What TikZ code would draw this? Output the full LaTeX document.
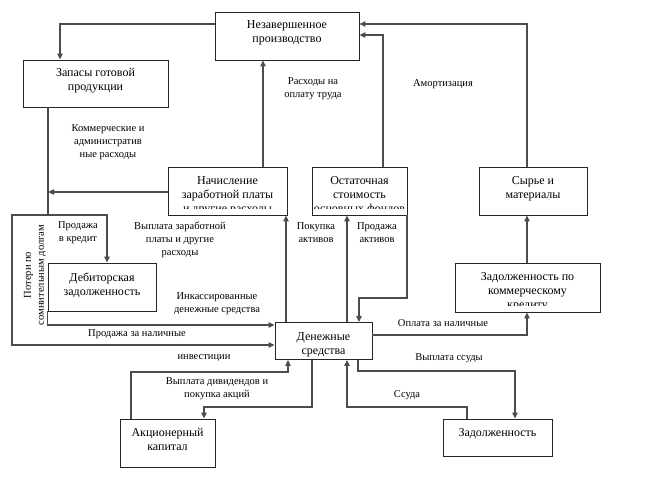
\documentclass[tikz,border=0pt]{standalone}
\usepackage{fontspec}
\setmainfont{Liberation Serif}
\usetikzlibrary{arrows.meta}
\begin{document}
\begin{tikzpicture}[x=1pt,y=-1pt,
  box/.style={draw=black!85, line width=0.9pt, inner sep=0pt},
  btext/.style={font=\fontsize{12}{14}\selectfont, align=center, inner sep=0pt, anchor=north},
  lbl/.style={font=\fontsize{10.5}{13}\selectfont, align=center, inner sep=0pt},
  conn/.style={draw=black!70, line width=1.1pt},
  arr/.style={conn, -{Triangle[length=6pt,width=5.5pt]}}
]
\useasboundingbox (0,0) rectangle (672,480);

% boxes
\node[box, minimum width=144pt, minimum height=48pt] (nez) at (287,36) {};
\node[box, minimum width=145pt, minimum height=47pt] (zap) at (95.5,83.5) {};
\node[box, minimum width=119pt, minimum height=48pt] (nach) at (227.5,191) {};
\node[box, minimum width=95pt, minimum height=48pt] (ost) at (359.5,191) {};
\node[box, minimum width=108pt, minimum height=48pt] (syr) at (533,191) {};
\node[box, minimum width=108pt, minimum height=48pt] (deb) at (102,287) {};
\node[box, minimum width=145pt, minimum height=49pt] (zkk) at (527.5,287.5) {};
\node[box, minimum width=97pt, minimum height=37pt] (den) at (323.5,341) {};
\node[box, minimum width=95pt, minimum height=48pt] (akc) at (167.5,443) {};
\node[box, minimum width=109pt, minimum height=37pt] (zad) at (497.5,437.5) {};

% box texts
\node[btext] (nez-t) at ([yshift=-9pt]nez.north) {Незавершенное\\производство};
\node[btext] (zap-t) at ([yshift=-9pt]zap.north) {Запасы готовой\\продукции};
\begin{scope}
\clip ([yshift=7pt]nach.south west) rectangle (nach.north east);
\node[btext] (nach-t) at ([yshift=-9.5pt]nach.north) {Начисление\\заработной платы\\и другие расходы};
\end{scope}
\begin{scope}
\clip ([yshift=7pt]ost.south west) rectangle (ost.north east);
\node[btext] (ost-t) at ([yshift=-9.5pt]ost.north) {Остаточная\\стоимость\\основных фондов};
\end{scope}
\node[btext] (syr-t) at ([yshift=-10pt]syr.north) {Сырье и\\материалы};
\node[btext] (deb-t) at ([yshift=-10pt]deb.north) {Дебиторская\\задолженность};
\begin{scope}
\clip ([yshift=7pt]zkk.south west) rectangle (zkk.north east);
\node[btext] (zkk-t) at ([yshift=-9.5pt]zkk.north) {Задолженность по\\коммерческому\\кредиту};
\end{scope}
\node[btext] (den-t) at ([yshift=-10pt]den.north) {Денежные\\средства};
\node[btext] (akc-t) at ([yshift=-10pt]akc.north) {Акционерный\\капитал};
\node[btext] (zad-t) at ([yshift=-10pt]zad.north) {Задолженность};

% connectors
\coordinate (fa) at (48,215);
\draw[arr] (nez.west |- 0,24) -| (zap.north -| 60,0);
\draw[arr] (syr.north -| 527,0) |- (nez.east |- 0,24);
\draw[arr] (ost.north -| 383,0) |- (nez.east |- 0,35);
\draw[arr] (nach.north -| 263,0) -- (nez.south -| 263,0);
\draw[arr] (nach.west |- 0,192) -- (fa |- 0,192);
\draw[conn] (zap.south -| fa) -- (fa);
\draw[arr] (fa) -| (deb.north -| 107,0);
\draw[arr] (fa) -| (12,345) -- (den.west |- 0,345);
\draw[arr] (deb.south west) |- (den.west |- 0,325);
\draw[arr] (den.north -| 286,0) -- (nach.south -| 286,0);
\draw[arr] (den.north -| 347,0) -- (ost.south -| 347,0);
\draw[arr] (ost.south -| 407,0) -- (407,298) -| (den.north -| 359,0);
\draw[arr] (den.east |- 0,335) -| (zkk.south -| 527,0);
\draw[arr] (zkk.north -| 527,0) -- (syr.south -| 527,0);
\draw[arr] (den.south -| 358,0) -- (358,371) -| (zad.north -| 515,0);
\draw[arr] (zad.north -| 467,0) -- (467,407) -| (den.south -| 347,0);
\draw[arr] (akc.north -| 131,0) -- (131,372) -| (den.south -| 288,0);
\draw[arr] (den.south -| 312,0) -- (312,407) -| (akc.north -| 204,0);

% labels
\node[lbl] (l1) at (313,89) {Расходы на\\оплату труда};
\node[lbl] (l2) at (443,84) {Амортизация};
\node[lbl] (l3) at (108,142) {Коммерческие и\\административ\\ные расходы};
\node[lbl] (l4) at (78,233) {Продажа\\в кредит};
\node[lbl] (l5) at (180,240) {Выплата заработной\\платы и другие\\расходы};
\node[lbl, rotate=90] (l6) at (35,275) {Потери по\\сомнительным долгам};
\node[lbl] (l7) at (217,304) {Инкассированные\\денежные средства};
\node[lbl] (l8) at (137,334) {Продажа за наличные};
\node[lbl] (l9) at (316,233) {Покупка\\активов};
\node[lbl] (l10) at (377,233) {Продажа\\активов};
\node[lbl] (l11) at (443,323) {Оплата за наличные};
\node[lbl] (l12) at (449,358) {Выплата ссуды};
\node[lbl] (l13) at (204,358) {инвестиции};
\node[lbl] (l14) at (217,389) {Выплата дивидендов и\\покупка акций};
\node[lbl] (l15) at (407,395) {Ссуда};
\end{tikzpicture}
\end{document}
